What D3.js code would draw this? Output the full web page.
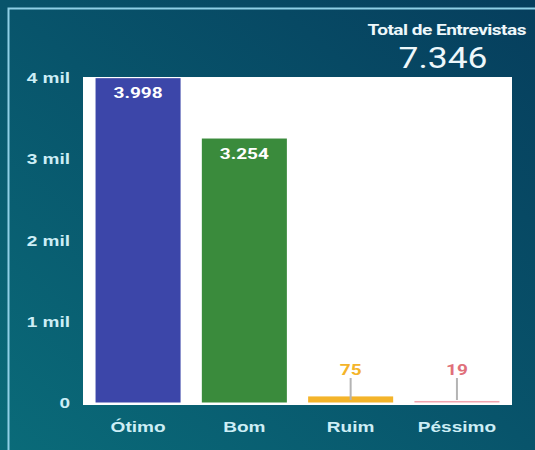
<!DOCTYPE html>
<html>
<head>
<meta charset="utf-8">
<script src="https://cdn.jsdelivr.net/npm/d3@7"></script>
<style>
  html, body { margin: 0; padding: 0; background: #0a4a64; }
  svg { display: block; font-family: Roboto, "Noto Sans", sans-serif; }
</style>
</head>
<body>
<script>
var categories = ["Ótimo", "Bom", "Ruim", "Péssimo"];
var values = [3998, 3254, 75, 19];
var barColors = ["#3c46a9", "#3a8b3c", "#f4b42a", "#f2a4ae"];
var labelColors = ["#ffffff", "#ffffff", "#f4b42a", "#e0707a"];
var yTicks = [0, 1000, 2000, 3000, 4000];
var totalLabel = "Total de Entrevistas";
var totalValue = 7346;

var width = 535, height = 450;
var margin = {top: 77, right: 23, bottom: 45, left: 83};
var stretch = 1.27; // the reference text is drawn wide

var svg = d3.select("body").append("svg")
    .attr("width", width)
    .attr("height", height);

var grad = svg.append("defs").append("linearGradient")
    .attr("id", "bg")
    .attr("x1", "0%").attr("y1", "100%")
    .attr("x2", "100%").attr("y2", "0%");
grad.append("stop").attr("offset", "0%").attr("stop-color", "#0a6b79");
grad.append("stop").attr("offset", "50%").attr("stop-color", "#08546b");
grad.append("stop").attr("offset", "100%").attr("stop-color", "#063e5d");

svg.append("rect")
    .attr("width", width).attr("height", height)
    .attr("fill", "url(#bg)");

// frame line
svg.append("path")
    .attr("d", "M8.5," + (height + 5) + "V8.5H" + (width + 5))
    .attr("fill", "none")
    .attr("stroke", "#8fd0e6")
    .attr("stroke-width", 2);

var x = d3.scaleBand()
    .domain(categories)
    .range([margin.left, width - margin.right])
    .paddingInner(0.2)
    .paddingOuter(0.118);

var y = d3.scaleLinear()
    .domain([0, 4000])
    .range([402.5, 78]);

// white plot area
svg.append("rect")
    .attr("x", margin.left)
    .attr("y", margin.top)
    .attr("width", width - margin.right - margin.left)
    .attr("height", height - margin.bottom - margin.top)
    .attr("fill", "#ffffff");

var data = categories.map(function(c, i) {
  return {cat: c, value: values[i], color: barColors[i], lc: labelColors[i]};
});

var fmt = function(v) { return d3.format(",")(v).replace(/,/g, "."); };

var bars = svg.append("g").selectAll("g")
    .data(data)
    .enter().append("g");

bars.append("rect")
    .attr("x", function(d) { return x(d.cat); })
    .attr("width", x.bandwidth())
    .attr("y", function(d) { return Math.min(y(d.value), y(0) - 1.5); })
    .attr("height", function(d) { return Math.max(y(0) - y(d.value), 1.5); })
    .attr("fill", function(d) { return d.color; });

bars.each(function(d) {
  var g = d3.select(this);
  var cx = x(d.cat) + x.bandwidth() / 2;
  var ty;
  if (d.value > 1000) {
    ty = y(d.value) + 20;
  } else {
    ty = 375;
    g.append("line")
      .attr("x1", cx).attr("x2", cx)
      .attr("y1", 378).attr("y2", 400)
      .attr("stroke", "#b4b4b4")
      .attr("stroke-width", 2);
  }
  g.append("text")
    .attr("transform", "translate(" + cx + "," + ty + ") scale(" + stretch + ",1)")
    .attr("text-anchor", "middle")
    .attr("fill", d.lc)
    .attr("font-size", 15)
    .attr("font-weight", "bold")
    .text(fmt(d.value));
});

// y axis
var yAxis = svg.append("g")
    .attr("transform", "translate(70,0)")
    .call(d3.axisLeft(y).tickValues(yTicks).tickSize(0).tickPadding(0)
      .tickFormat(function(d) { return d === 0 ? "0" : (d / 1000) + " mil"; }));
yAxis.select(".domain").remove();
yAxis.selectAll("text")
    .attr("fill", "#cdeef6")
    .attr("font-size", 15)
    .attr("font-weight", "bold")
    .attr("transform", "scale(" + stretch + ",1)");

// x axis
var xAxis = svg.append("g")
    .attr("transform", "translate(0,405)")
    .call(d3.axisBottom(x).tickSize(0).tickPadding(0));
xAxis.select(".domain").remove();
xAxis.selectAll("text")
    .attr("fill", "#cdeef6")
    .attr("font-size", 15)
    .attr("font-weight", "bold")
    .attr("dy", null)
    .attr("y", 27)
    .attr("transform", "scale(" + stretch + ",1)");

// total
svg.append("text")
    .attr("transform", "translate(526,35) scale(" + stretch + ",1)")
    .attr("text-anchor", "end")
    .attr("fill", "#eef8fb")
    .attr("font-size", 15)
    .attr("font-weight", "bold")
    .attr("letter-spacing", "-0.4px")
    .text(totalLabel);

svg.append("text")
    .attr("transform", "translate(443,68) scale(1.18,1)")
    .attr("text-anchor", "middle")
    .attr("fill", "#eef8fb")
    .attr("font-size", 30)
    .text(fmt(totalValue));
</script>
</body>
</html>
